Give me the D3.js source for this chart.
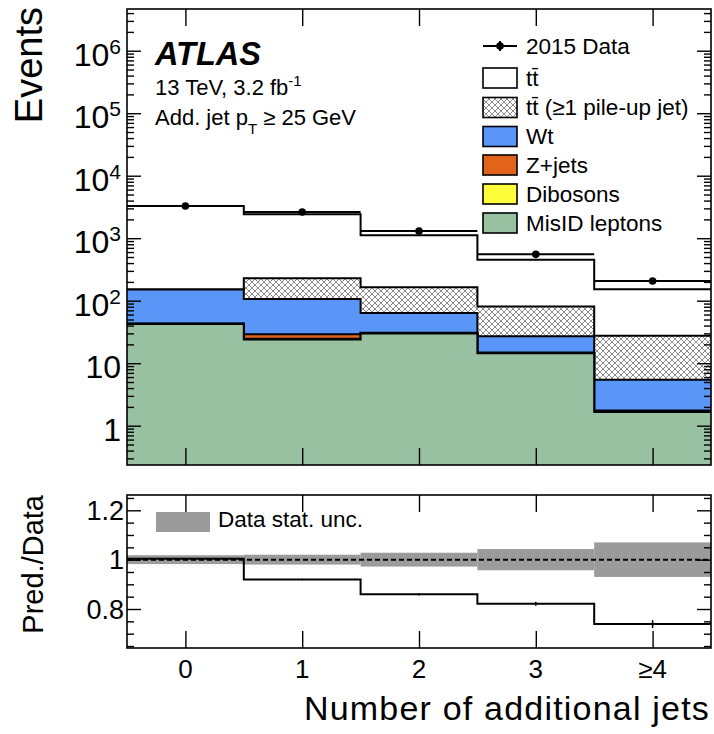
<!DOCTYPE html>
<html><head><meta charset="utf-8">
<script src="https://cdn.jsdelivr.net/npm/d3@7"></script>
<style>
body{margin:0;background:#fff}
svg{font-family:"Liberation Sans",Arial,Helvetica,sans-serif}
</style>
</head><body>
<svg id="chart" width="714" height="734"></svg>
<script>
// ---- data: number of additional jets, events per bin ----
const categories = ["0", "1", "2", "3", "≥4"];
const binCenters = [0, 1, 2, 3, 4];
const dataCounts = [3275, 2625, 1303, 552, 207];
// stacked predictions, listed bottom to top
const misidLeptons = [42.5, 24, 30, 14.4, 1.65];
const dibosons = [0.3, 0.6, 0.3, 0.2, 0.05];
const zJets = [0.5, 4.5, 0.4, 0.2, 0.05];
const wt = [108, 77, 33, 12.1, 3.7];
const ttbarPileup = [0, 122, 101, 53.5, 22];
const ttbar = [3135, 2187, 955, 373, 125.5];
// relative uncertainties shown in the ratio panel
const dataStatUnc = [0.018, 0.02, 0.028, 0.043, 0.07];
const ratioUnc = [0.002, 0.003, 0.005, 0.008, 0.016];
// axis ticks
const mainTicks = [1, 10, 100, 1e3, 1e4, 1e5, 1e6];
const mainTickBase = ["1", "10", "10", "10", "10", "10", "10"];
const mainTickExp = ["", "", "2", "3", "4", "5", "6"];
const ratioTicks = [0.8, 1, 1.2];
const ratioTickLabels = ["0.8", "1", "1.2"];

const svg = d3.select("#chart");
const L = 127, R = 711, T1 = 9, B1 = 465, T2 = 495, B2 = 648;

const x = d3.scaleLinear().domain([-0.5, 4.5]).range([L, R]);
const y = d3.scaleLog().domain([0.235, 4.65e6]).range([B1, T1]);
const yr = d3.scaleLinear().domain([0.642, 1.262]).range([B2, T2]);

// hatch pattern for the pile-up component
const defs = svg.append("defs");
const pat = defs.append("pattern").attr("id", "hatch").attr("patternUnits", "userSpaceOnUse")
  .attr("width", 6).attr("height", 6);
pat.append("path").attr("d", "M0,0 L6,6 M6,0 L0,6 M-1,5 L1,7 M5,-1 L7,1 M-1,1 L1,-1 M5,7 L7,5")
  .attr("stroke", "#808080").attr("stroke-width", 0.9).attr("fill", "none");
defs.append("clipPath").attr("id", "clipMain").append("rect")
  .attr("x", L).attr("y", T1).attr("width", R - L).attr("height", B1 - T1);
defs.append("clipPath").attr("id", "clipRatio").append("rect")
  .attr("x", L).attr("y", T2).attr("width", R - L).attr("height", B2 - T2);

// ---- stack ----
const components = [
  {name: "MisID leptons", vals: misidLeptons, fill: "#98c1a2"},
  {name: "Dibosons", vals: dibosons, fill: "#fdfd3c"},
  {name: "Z+jets", vals: zJets, fill: "#e2641a"},
  {name: "Wt", vals: wt, fill: "#5a96f8"},
  {name: "pileup", vals: ttbarPileup, fill: "url(#hatch)"},
  {name: "ttbar", vals: ttbar, fill: "#ffffff"}
];
let running = binCenters.map(() => 0);
components.forEach(c => {
  running = running.map((r, i) => r + c.vals[i]);
  c.cum = running.slice();
});
const total = components[components.length - 1].cum;

function stepPoints(vals, sy) {
  const pts = [];
  vals.forEach((v, i) => {
    pts.push([x(binCenters[i] - 0.5), sy(v)]);
    pts.push([x(binCenters[i] + 0.5), sy(v)]);
  });
  return pts;
}
const lineGen = d3.line();
const areaGen = d3.area().x(d => d[0]).y0(B1).y1(d => d[1]);

const gMain = svg.append("g").attr("clip-path", "url(#clipMain)");
components.slice().reverse().forEach(c => {
  const pts = stepPoints(c.cum, y);
  gMain.append("path").attr("d", areaGen(pts)).attr("fill", c.fill).attr("stroke", "none");
  gMain.append("path").attr("d", lineGen(pts)).attr("fill", "none")
    .attr("stroke", "#000").attr("stroke-width", 2);
});

// data points with bin-width bars
const gData = gMain.append("g");
dataCounts.forEach((v, i) => {
  const cx = x(binCenters[i]);
  gData.append("line").attr("x1", x(binCenters[i] - 0.5)).attr("x2", x(binCenters[i] + 0.5))
    .attr("y1", y(v)).attr("y2", y(v)).attr("stroke", "#000").attr("stroke-width", 2);
  const e = Math.sqrt(v);
  gData.append("line").attr("x1", cx).attr("x2", cx).attr("y1", y(v - e)).attr("y2", y(v + e))
    .attr("stroke", "#000").attr("stroke-width", 2);
  gData.append("circle").attr("cx", cx).attr("cy", y(v)).attr("r", 3.8).attr("fill", "#000");
});

// ---- frames and ticks ----
function frame(top, bottom) {
  svg.append("rect").attr("x", L).attr("y", top).attr("width", R - L).attr("height", bottom - top)
    .attr("fill", "none").attr("stroke", "#000").attr("stroke-width", 1.6);
}
function styleAxis(g) {
  g.select(".domain").remove();
  g.selectAll(".tick line").attr("stroke", "#000").attr("stroke-width", 1.4);
  g.selectAll(".tick text").remove();
}
function xTicks(top, bottom) {
  svg.append("g").attr("transform", `translate(0,${bottom})`)
    .call(d3.axisBottom(x).tickValues(binCenters).tickSize(-17)).call(styleAxis);
  svg.append("g").attr("transform", `translate(0,${top})`)
    .call(d3.axisTop(x).tickValues(binCenters).tickSize(-17)).call(styleAxis);
}
function yTicks(scale, major, minor) {
  svg.append("g").attr("transform", `translate(${L},0)`)
    .call(d3.axisLeft(scale).tickValues(major).tickSize(-14)).call(styleAxis);
  svg.append("g").attr("transform", `translate(${L},0)`)
    .call(d3.axisLeft(scale).tickValues(minor).tickSize(-7)).call(styleAxis);
  svg.append("g").attr("transform", `translate(${R},0)`)
    .call(d3.axisRight(scale).tickValues(major).tickSize(-14)).call(styleAxis);
  svg.append("g").attr("transform", `translate(${R},0)`)
    .call(d3.axisRight(scale).tickValues(minor).tickSize(-7)).call(styleAxis);
}

const logMinor = [];
[0.1, 1, 10, 100, 1e3, 1e4, 1e5, 1e6].forEach(d => {
  for (let m = 2; m <= 9; m++) {
    const v = m * d;
    if (v > y.domain()[0] && v < y.domain()[1]) logMinor.push(v);
  }
});
yTicks(y, mainTicks, logMinor);
xTicks(T1, B1);
frame(T1, B1);

// main y tick labels
const gyl = svg.append("g").attr("font-size", 32).attr("text-anchor", "end");
mainTicks.forEach((v, i) => {
  const t = gyl.append("text").attr("x", 121).attr("y", y(v) + 15);
  t.append("tspan").text(mainTickBase[i]);
  if (mainTickExp[i]) t.append("tspan").attr("font-size", 21).attr("dy", -12).text(mainTickExp[i]);
});

// axis title
svg.append("text").attr("transform", "translate(42,7) rotate(-90)")
  .attr("text-anchor", "end").attr("font-size", 38).text("Events");

// ATLAS labels
svg.append("text").attr("x", 155).attr("y", 65).attr("font-size", 32.5)
  .attr("font-weight", "bold").attr("font-style", "italic").text("ATLAS");
const l2 = svg.append("text").attr("x", 155).attr("y", 95).attr("font-size", 22);
l2.append("tspan").text("13 TeV, 3.2 fb");
l2.append("tspan").attr("font-size", 15).attr("dy", -9).text("-1");
const l3 = svg.append("text").attr("x", 155).attr("y", 125).attr("font-size", 22);
l3.append("tspan").text("Add. jet p");
l3.append("tspan").attr("font-size", 15).attr("dy", 9).text("T");
l3.append("tspan").attr("dy", -9).text(" ≥ 25 GeV");

// ---- legend ----
const legendRows = [
  {label: "2015 Data", type: "data", cy: 46},
  {label: "tt\u0304", fill: "#ffffff", cy: 78},
  {label: "tt\u0304 (≥1 pile-up jet)", fill: "url(#hatch)", cy: 107.5},
  {label: "Wt", fill: "#5a96f8", cy: 136.5},
  {label: "Z+jets", fill: "#e2641a", cy: 165},
  {label: "Dibosons", fill: "#fdfd3c", cy: 194},
  {label: "MisID leptons", fill: "#98c1a2", cy: 223}
];
const gLeg = svg.append("g");
legendRows.forEach(r => {
  if (r.type === "data") {
    gLeg.append("line").attr("x1", 483).attr("x2", 517).attr("y1", r.cy).attr("y2", r.cy)
      .attr("stroke", "#000").attr("stroke-width", 2);
    gLeg.append("line").attr("x1", 500).attr("x2", 500).attr("y1", r.cy - 5).attr("y2", r.cy + 5)
      .attr("stroke", "#000").attr("stroke-width", 2);
    gLeg.append("circle").attr("cx", 500).attr("cy", r.cy).attr("r", 3.8).attr("fill", "#000");
  } else {
    if (r.fill.startsWith("url")) {
      gLeg.append("rect").attr("x", 483).attr("y", r.cy - 10).attr("width", 34).attr("height", 20)
        .attr("fill", "#fff");
    }
    gLeg.append("rect").attr("x", 483).attr("y", r.cy - 10).attr("width", 34).attr("height", 20)
      .attr("fill", r.fill).attr("stroke", "#000").attr("stroke-width", 1.6);
  }
  gLeg.append("text").attr("x", 526).attr("y", r.cy + 7.5).attr("font-size", 22.5).text(r.label);
});

// ---- ratio panel ----
const ratio = total.map((t, i) => t / dataCounts[i]);
const gR = svg.append("g").attr("clip-path", "url(#clipRatio)");
dataStatUnc.forEach((e, i) => {
  gR.append("rect").attr("x", x(binCenters[i] - 0.5)).attr("width", x(binCenters[i] + 0.5) - x(binCenters[i] - 0.5))
    .attr("y", yr(1 + e)).attr("height", yr(1 - e) - yr(1 + e)).attr("fill", "#9b9b9b");
});
gR.append("line").attr("x1", L).attr("x2", R).attr("y1", yr(1)).attr("y2", yr(1))
  .attr("stroke", "#000").attr("stroke-width", 2).attr("stroke-dasharray", "5,3");
gR.append("path").attr("d", lineGen(stepPoints(ratio, yr))).attr("fill", "none")
  .attr("stroke", "#000").attr("stroke-width", 2);
ratio.forEach((r, i) => {
  const cx = x(binCenters[i]);
  gR.append("line").attr("x1", cx).attr("x2", cx).attr("y1", yr(r - ratioUnc[i])).attr("y2", yr(r + ratioUnc[i]))
    .attr("stroke", "#000").attr("stroke-width", 1.5);
});

// ratio legend
svg.append("rect").attr("x", 156).attr("y", 512).attr("width", 54).attr("height", 20).attr("fill", "#9b9b9b");
svg.append("text").attr("x", 218).attr("y", 527).attr("font-size", 22.5).text("Data stat. unc.");

const ratioMinor = d3.range(0.65, 1.2501, 0.05).map(v => +v.toFixed(2)).filter(v => !ratioTicks.includes(v));
yTicks(yr, ratioTicks, ratioMinor);
xTicks(T2, B2);
frame(T2, B2);

const gryl = svg.append("g").attr("font-size", 27).attr("text-anchor", "end");
ratioTicks.forEach((v, i) => {
  gryl.append("text").attr("x", 124).attr("y", yr(v) + 9.5).text(ratioTickLabels[i]);
});
svg.append("text").attr("transform", "translate(43,495) rotate(-90)")
  .attr("text-anchor", "end").attr("font-size", 29).text("Pred./Data");

// x tick labels and title
const gxl = svg.append("g").attr("font-size", 26).attr("text-anchor", "middle");
categories.forEach((c, i) => {
  gxl.append("text").attr("x", x(binCenters[i])).attr("y", 678).text(c);
});
svg.append("text").attr("x", 710).attr("y", 720).attr("text-anchor", "end")
  .attr("font-size", 34).attr("letter-spacing", 1.2).text("Number of additional jets");
</script>
</body></html>
